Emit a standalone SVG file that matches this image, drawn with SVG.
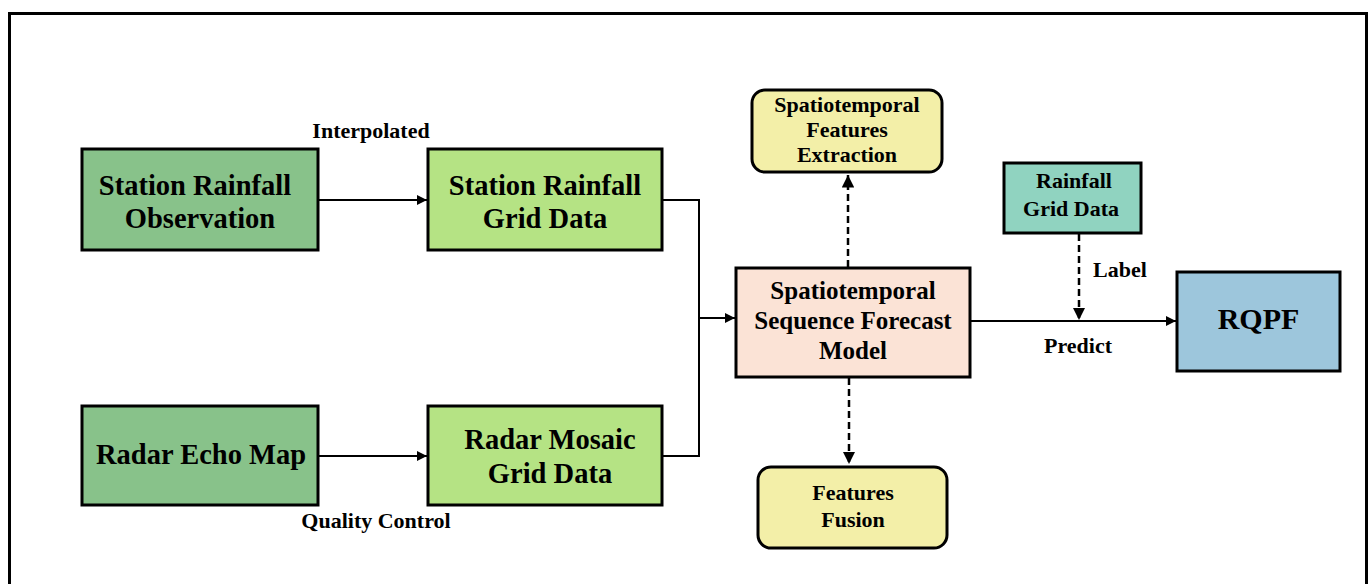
<svg xmlns="http://www.w3.org/2000/svg" width="1372" height="584" viewBox="0 0 1372 584">
  <defs>
    <style>
      .box { stroke: #000; stroke-width: 3; }
      .t { font-family: "Liberation Serif", "Times New Roman", serif; font-weight: bold; fill: #000; text-anchor: middle; }
      .big { font-size: 28.5px; }
      .mid { font-size: 25px; }
      .small { font-size: 22px; }
      .edge { fill: none; stroke: #000; stroke-width: 2; }
      .dash { fill: none; stroke: #000; stroke-width: 2.5; stroke-dasharray: 7 4; }
    </style>
    <marker id="arrow" viewBox="0 0 10 10" refX="10" refY="5" markerWidth="5" markerHeight="5" orient="auto" markerUnits="strokeWidth">
      <path d="M0,0 L10,5 L0,10 z" fill="#000"/>
    </marker>
  </defs>

  <rect width="1372" height="584" fill="#fff"/>
  <!-- outer frame, open at the bottom edge -->
  <path d="M9.5,590 V13.5 H1366.5 V590" fill="none" stroke="#000" stroke-width="3"/>

  <g id="station-obs">
    <rect class="box" x="82" y="149" width="236" height="101" fill="#88C28A"/>
    <text class="t big" x="195" y="195">Station Rainfall</text>
    <text class="t big" x="200" y="228">Observation</text>
  </g>

  <g id="station-grid">
    <rect class="box" x="428" y="149" width="234" height="101" fill="#B5E384"/>
    <text class="t big" x="545" y="195">Station Rainfall</text>
    <text class="t big" x="545" y="228">Grid Data</text>
  </g>

  <g id="radar-echo">
    <rect class="box" x="82" y="406" width="236" height="99" fill="#88C28A"/>
    <text class="t big" x="201" y="464">Radar Echo Map</text>
  </g>

  <g id="radar-mosaic">
    <rect class="box" x="428" y="406" width="234" height="99" fill="#B5E384"/>
    <text class="t big" x="550" y="449">Radar Mosaic</text>
    <text class="t big" x="550" y="483">Grid Data</text>
  </g>

  <g id="model">
    <rect class="box" x="736" y="268" width="234" height="109" fill="#FBE3D6"/>
    <text class="t mid" x="853" y="299">Spatiotemporal</text>
    <text class="t mid" x="853" y="329">Sequence Forecast</text>
    <text class="t mid" x="853" y="359">Model</text>
  </g>

  <g id="feature-extraction">
    <rect class="box" x="752" y="90" width="190" height="82" rx="13" fill="#F3EFA8"/>
    <text class="t small" x="847" y="112">Spatiotemporal</text>
    <text class="t small" x="847" y="137">Features</text>
    <text class="t small" x="847" y="162">Extraction</text>
  </g>

  <g id="feature-fusion">
    <rect class="box" x="758" y="467" width="189" height="81" rx="13" fill="#F3EFA8"/>
    <text class="t small" x="853" y="500">Features</text>
    <text class="t small" x="853" y="527">Fusion</text>
  </g>

  <g id="rainfall-grid">
    <rect class="box" x="1004" y="163" width="137" height="70" fill="#90D3C0"/>
    <text class="t small" x="1074" y="188">Rainfall</text>
    <text class="t small" x="1071" y="216">Grid Data</text>
  </g>

  <g id="rqpf">
    <rect class="box" x="1177" y="272" width="163" height="99" fill="#9DC6DC"/>
    <text class="t" x="1258.5" y="329" font-size="30">RQPF</text>
  </g>

  <g id="connectors">
    <path class="edge" d="M318,200 H427" marker-end="url(#arrow)"/>
    <path class="edge" d="M318,456 H427" marker-end="url(#arrow)"/>
    <path class="edge" d="M662,200 H699 V456 H662"/>
    <path class="edge" d="M699,318 H735" marker-end="url(#arrow)"/>
    <path class="edge" d="M970,321 H1176" marker-end="url(#arrow)"/>
    <path class="dash" d="M848,267 V175" marker-end="url(#arrow)"/>
    <path class="dash" d="M849,378 V464" marker-end="url(#arrow)"/>
    <path class="dash" d="M1079,234 V320" marker-end="url(#arrow)"/>
    <text class="t small" x="371" y="138">Interpolated</text>
    <text class="t small" x="376" y="528">Quality Control</text>
    <text class="t small" x="1078" y="353">Predict</text>
    <text class="t small" x="1120" y="277">Label</text>
  </g>
</svg>
